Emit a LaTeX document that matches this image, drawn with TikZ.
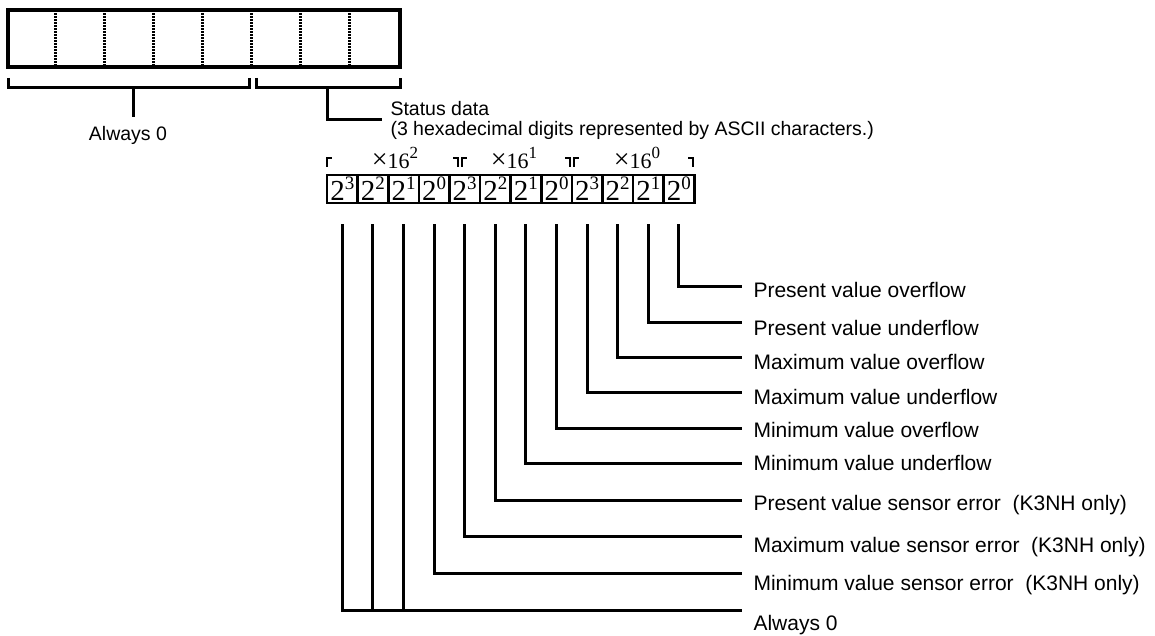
\documentclass[tikz,border=0pt]{standalone}
\usepackage{fontspec}
\setmainfont{Liberation Sans}
\newfontfamily\numfont{Liberation Serif}
\usetikzlibrary{positioning}

\newcommand{\bitpow}[1]{{\numfont\fontsize{29}{29}\selectfont 2\raisebox{11pt}{\fontsize{19}{19}\selectfont #1}}}
\newcommand{\hexpow}[1]{{\numfont\fontsize{22}{22}\selectfont {\fontsize{28}{28}\selectfont ×}16\raisebox{10pt}{\fontsize{17}{17}\selectfont #1}}}

\tikzset{
    bitbox/.style={rectangle, draw, line width=2.6pt, minimum width=30.6pt, minimum height=28pt, inner sep=0pt},
    desc/.style={anchor=west, inner sep=0pt, font=\fontsize{21}{25}\selectfont},
    note/.style={inner sep=0pt, font=\fontsize{19.5}{20}\selectfont}
}

\begin{document}
\begin{tikzpicture}[x=1pt, y=-1pt, line width=3pt]
    \useasboundingbox (0,0) rectangle (1155,636);

    % response data field
    \node (frame) [rectangle, draw, line width=3.2pt, minimum width=392pt, minimum height=57pt, inner sep=0pt] at (204,38.5) {};
    \foreach \k in {1,...,7}
        \draw[line width=2.4pt, dash pattern=on 2pt off 1pt] ([xshift=\k*49pt, yshift=-2pt]frame.north west) -- ([xshift=\k*49pt, yshift=2pt]frame.south west);

    \draw (8,78) -- (8,88) -- (249,88) -- (249,78);
    \draw (256,78) -- (256,88) -- (400,88) -- (400,78);
    \node (zero) [note] at (128,135) {Always 0};
    \draw (133,88) -- (133,117);
    \node (status) [note, anchor=west, align=left] at (389,120) {Status data\\(3 hexadecimal digits represented by ASCII characters.)};
    \draw (327,88) |- (382,120);

    % bits
    \foreach \i/\p in {1/3,2/2,3/1,4/0,5/3,6/2,7/1,8/0,9/3,10/2,11/1,12/0}
        \node (b\i) [bitbox] at (342.3+30.6*\i-30.6,189) {\bitpow{\p}};

    \node (g2) at (395,158) {\hexpow{2}};
    \node (g1) at (514,158) {\hexpow{1}};
    \node (g0) at (637,158) {\hexpow{0}};
    \draw[line width=2.6pt] (327,167) -- (327,158) -- (332,158);
    \draw[line width=2.6pt] (453,158) -- (458,158) -- (458,167);
    \draw[line width=2.6pt] (462,167) -- (462,158) -- (467,158);
    \draw[line width=2.6pt] (565,158) -- (570,158) -- (570,167);
    \draw[line width=2.6pt] (574,167) -- (574,158) -- (579,158);
    \draw[line width=2.6pt] (688,158) -- (693,158) -- (693,167);

    % meanings
    \node (l1) [desc] at (752,290) {Present value overflow};
    \node (l2) [desc] at (752,328) {Present value underflow};
    \node (l3) [desc] at (752,362) {Maximum value overflow};
    \node (l4) [desc] at (752,397) {Maximum value underflow};
    \node (l5) [desc] at (752,430) {Minimum value overflow};
    \node (l6) [desc] at (752,463) {Minimum value underflow};
    \node (l7) [desc] at (752,505) {Present value sensor error\ \ (K3NH only)};
    \node (l8) [desc] at (752,547) {Maximum value sensor error\ \ (K3NH only)};
    \node (l9) [desc] at (752,585) {Minimum value sensor error\ \ (K3NH only)};
    \node (l10) [desc] at (752,625) {Always 0};

    \coordinate (e1) at (742,286);
    \coordinate (e2) at (742,322);
    \coordinate (e3) at (742,357);
    \coordinate (e4) at (742,392);
    \coordinate (e5) at (742,428);
    \coordinate (e6) at (742,463);
    \coordinate (e7) at (742,500);
    \coordinate (e8) at (742,536);
    \coordinate (e9) at (742,573);
    \coordinate (e10) at (742,610);

    \draw ([yshift=-20pt]b12.south) |- (e1);
    \draw ([yshift=-20pt]b11.south) |- (e2);
    \draw ([yshift=-20pt]b10.south) |- (e3);
    \draw ([yshift=-20pt]b9.south) |- (e4);
    \draw ([yshift=-20pt]b8.south) |- (e5);
    \draw ([yshift=-20pt]b7.south) |- (e6);
    \draw ([yshift=-20pt]b6.south) |- (e7);
    \draw ([yshift=-20pt]b5.south) |- (e8);
    \draw ([yshift=-20pt]b4.south) |- (e9);
    \draw ([yshift=-20pt]b1.south) |- (e10);
    \draw ([yshift=-20pt]b2.south) -- (b2.south |- e10);
    \draw ([yshift=-20pt]b3.south) -- (b3.south |- e10);
\end{tikzpicture}
\end{document}
